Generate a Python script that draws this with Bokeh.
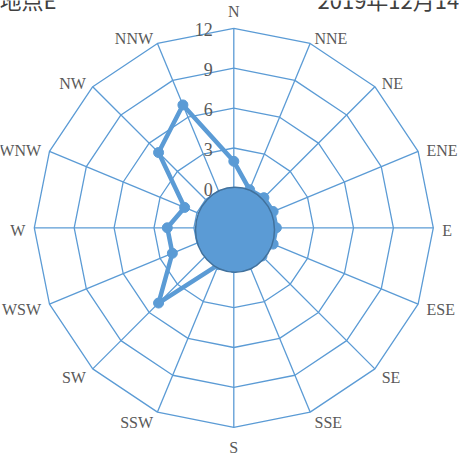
import numpy as np
from bokeh.plotting import figure
from bokeh.models import Range1d
from bokeh.embed import file_html
from bokeh.resources import INLINE
from bokeh.core.properties import value

# ---- data ----
directions = ["N", "NNE", "NE", "ENE", "E", "ESE", "SE", "SSE",
              "S", "SSW", "SW", "WSW", "W", "WNW", "NW", "NNW"]
counts = [2, 0.1, 0.2, 0.2, 0.2, 0.2, 0, 0, 0, 0, 5, 2, 2, 1, 5, 7]
ring_values = [-3, 0, 3, 6, 9, 12]
ring_labels = ["0", "3", "6", "9", "12"]
axis_min = -3
axis_max = 12
title_left = "地点E"
title_right = "2019年12月14日"

# ---- geometry (screen-like coordinates) ----
W, H = 459, 457
CX, CY = 233.3, 227.3
R = 199.5
scale = R / (axis_max - axis_min)
BLUE = "#5B9BD5"
GRAY = "#595959"

n = len(directions)
theta = np.arange(n) * 2 * np.pi / n
s, c = np.sin(theta), np.cos(theta)


def to_xy(v, i):
    r = (v - axis_min) * scale
    return CX + r * s[i], CY - r * c[i]


p = figure(width=W, height=H, output_backend="svg", toolbar_location=None,
           x_range=Range1d(0, W), y_range=Range1d(H, 0),
           x_axis_type=None, y_axis_type=None, min_border=0,
           outline_line_color=None, background_fill_color="white",
           border_fill_color="white")
p.grid.visible = False

# rings
for rv in ring_values[1:]:
    xs, ys = zip(*[to_xy(rv, i) for i in range(n)])
    p.line(list(xs) + [xs[0]], list(ys) + [ys[0]], line_color=BLUE, line_width=1.3)
# spokes
for i in range(n):
    x1, y1 = to_xy(axis_max, i)
    p.line([CX, x1], [CY, y1], line_color=BLUE, line_width=1.3)

# data series
pts = [to_xy(v, i) for i, v in enumerate(counts)]
dx, dy = zip(*pts)
p.line(list(dx) + [dx[0]], list(dy) + [dy[0]], line_color=BLUE, line_width=4.5,
       line_join="round")
p.scatter(list(dx), list(dy), size=10, fill_color=BLUE, line_color=BLUE)

# calm circle
p.ellipse(x=[234.5], y=[229.2], width=[79], height=[85], fill_color=BLUE,
          line_color="#41719C", line_width=1.5)

# tick labels
for rv, lab in zip(ring_values[1:], ring_labels):
    x, y = to_xy(rv, 0)
    p.text(x=[x - 21], y=[y + 1.5], text=[lab], text_align="right",
           text_baseline="middle", text_color=GRAY, text_font_size="18px",
           text_font=value("Liberation Serif"))

# direction labels
for i, d in enumerate(directions):
    vx, vy = to_xy(axis_max, i)
    if abs(s[i]) < 0.1:
        align = "center"
        lx = vx
        ly = vy - 16.5 if c[i] > 0 else vy + 20.5
    else:
        align = "left" if s[i] > 0 else "right"
        lx = vx + np.sign(s[i]) * (1.5 + 7.5 * abs(s[i]))
        ly = vy - 8 * c[i] + 2.5
    p.text(x=[lx], y=[ly], text=[d], text_align=align, text_baseline="middle",
           text_color=GRAY, text_font_size="16px",
           text_font=value("Liberation Serif"))

# titles (partly above the top edge, as in the reference)
p.text(x=[-1], y=[-2], text=[title_left], text_align="left",
       text_baseline="middle", text_color="#404040", text_font_size="22px",
       text_font=value("Noto Sans CJK JP"))
p.text(x=[317], y=[-2], text=[title_right], text_align="left",
       text_baseline="middle", text_color="#404040", text_font_size="22px",
       text_font=value("Noto Sans CJK JP"))

open("out.html", "w").write(file_html(p, INLINE))
